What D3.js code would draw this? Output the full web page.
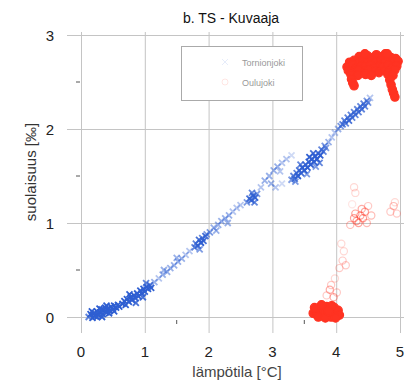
<!DOCTYPE html>
<html>
<head>
<meta charset="utf-8">
<script src="https://cdn.jsdelivr.net/npm/d3@7"></script>
<style>
  body { margin: 0; background: #fff; }
  svg { display: block; }
</style>
</head>
<body>
<div id="chart"></div>
<script>
// Tick values
const xTicks = [0, 1, 2, 3, 4, 5];
const yTicks = [0, 1, 2, 3];
const seriesNames = ["Tornionjoki", "Oulujoki"];

// Tornionjoki (blue x) - temperature, salinity
const tornionjoki = [
  [0.12,0.00],[0.15,0.03],[0.18,-0.01],[0.20,0.04],[0.22,0.01],[0.25,0.06],[0.27,0.02],[0.30,0.05],
  [0.32,0.08],[0.34,0.03],[0.36,0.07],[0.38,0.10],[0.40,0.05],[0.42,0.09],[0.45,0.07],[0.47,0.11],
  [0.50,0.08],[0.52,0.12],[0.55,0.10],[0.58,0.13],[0.60,0.11],[0.25,0.00],[0.33,0.00],[0.44,0.04],
  [0.17,0.06],[0.29,0.09],[0.40,0.12],[0.52,0.06],
  [0.65,0.14],[0.68,0.17],[0.70,0.13],[0.72,0.19],[0.75,0.16],[0.78,0.21],[0.80,0.18],[0.83,0.23],
  [0.85,0.20],[0.88,0.25],[0.90,0.22],[0.93,0.28],[0.95,0.25],[0.98,0.30],[1.00,0.27],[1.03,0.32],
  [1.05,0.30],[1.08,0.34],[1.10,0.31],[0.76,0.24],[0.86,0.15],[0.97,0.21],[1.02,0.36],
  [1.15,0.37],[1.22,0.41],[1.28,0.45],[1.35,0.48],[1.40,0.52],[1.46,0.55],[1.52,0.59],[1.58,0.62],
  [1.64,0.66],[1.70,0.70],[1.30,0.50],[1.50,0.63],
  [1.78,0.74],[1.80,0.78],[1.83,0.76],[1.85,0.82],[1.88,0.79],[1.90,0.84],[1.92,0.81],[1.95,0.86],
  [1.86,0.72],[1.97,0.88],
  [2.02,0.90],[2.08,0.95],[2.15,0.98],[2.20,1.02],[2.26,1.05],[2.32,1.08],[2.38,1.12],[2.44,1.16],
  [2.50,1.19],[2.12,0.92],[2.30,1.00],
  [2.60,1.22],[2.64,1.26],[2.67,1.24],[2.70,1.29],[2.73,1.27],[2.76,1.31],[2.68,1.32],[2.72,1.22],
  [2.82,1.38],[2.88,1.45],[2.95,1.50],[3.02,1.56],[3.08,1.60],[3.15,1.64],[3.22,1.68],[3.30,1.72],
  [2.98,1.42],[3.12,1.55],[3.05,1.38],[3.15,1.42],
  [3.30,1.46],[3.33,1.50],[3.35,1.47],[3.38,1.53],[3.40,1.50],[3.42,1.56],[3.45,1.53],[3.47,1.59],
  [3.50,1.56],[3.52,1.62],[3.55,1.59],[3.57,1.65],[3.60,1.62],[3.62,1.68],[3.65,1.65],[3.67,1.71],
  [3.70,1.68],[3.72,1.74],[3.75,1.72],[3.77,1.78],[3.80,1.76],[3.82,1.82],[3.84,1.80],[3.44,1.62],
  [3.54,1.52],[3.64,1.74],[3.74,1.64],[3.36,1.44],[3.58,1.70],[3.68,1.60],
  [3.88,1.86],[3.93,1.91],[3.98,1.96],[4.03,2.00],[4.07,2.03],
  [4.10,2.05],[4.13,2.09],[4.15,2.06],[4.18,2.12],[4.20,2.09],[4.23,2.15],[4.25,2.12],[4.28,2.18],
  [4.30,2.15],[4.33,2.21],[4.35,2.18],[4.38,2.24],[4.40,2.21],[4.43,2.27],[4.45,2.24],[4.48,2.30],
  [4.50,2.28],[4.53,2.33]
];

// Oulujoki (red o) - temperature, salinity
const oulujoki = [
  [4.36,2.77],[4.43,2.75],[4.49,2.78],[4.58,2.76],[4.63,2.79],[4.72,2.77],[4.77,2.80],[4.86,2.76],[4.93,2.75],
  [4.21,2.71],[4.28,2.73],[4.33,2.70],[4.42,2.72],[4.47,2.70],[4.56,2.73],[4.61,2.71],[4.70,2.72],
  [4.75,2.70],[4.84,2.73],[4.89,2.71],[4.97,2.72],
  [4.17,2.66],[4.26,2.68],[4.31,2.65],[4.40,2.67],[4.45,2.66],[4.54,2.68],[4.59,2.65],[4.68,2.67],
  [4.73,2.66],[4.82,2.68],[4.87,2.65],[4.95,2.67],
  [4.19,2.62],[4.29,2.61],[4.35,2.63],[4.45,2.61],[4.51,2.63],[4.61,2.62],[4.67,2.60],[4.77,2.62],
  [4.83,2.61],[4.92,2.63],
  [4.23,2.58],[4.34,2.57],[4.46,2.58],[4.55,2.57],[4.81,2.58],[4.89,2.57],
  [4.24,2.53],[4.26,2.49],[4.28,2.46],[4.84,2.52],[4.86,2.47],[4.88,2.42],[4.90,2.38],[4.92,2.34],
  [4.80,2.80],[4.45,2.80],
  [3.64,0.04],[3.68,0.07],[3.70,0.02],[3.73,0.09],[3.75,0.04],[3.78,0.10],[3.80,0.01],[3.82,0.06],
  [3.85,0.11],[3.87,0.03],[3.90,0.08],[3.92,0.00],[3.95,0.05],[3.97,0.10],[4.00,0.03],[4.03,0.07],
  [4.05,0.02],[3.72,0.00],[3.83,-0.01],[3.99,-0.01],[3.77,0.13],[3.93,0.12],[3.66,0.10],[3.88,0.06],
  [3.85,0.23],[3.90,0.29],[3.96,0.21],[4.01,0.26],[3.92,0.34],[4.05,0.52],[4.10,0.60],[4.12,0.70],
  [4.08,0.78],[4.15,0.55],[4.22,0.98],[4.28,1.05],[4.32,1.02],[4.30,1.10],[4.35,1.00],[4.38,1.08],
  [4.40,1.15],[4.42,1.05],[4.45,1.12],[4.48,1.00],[4.25,1.20],[4.30,1.32],[4.28,1.38],[4.50,1.18],
  [4.55,1.08],[4.85,1.12],[4.90,1.18],[4.95,1.10],[4.92,1.22],[3.98,0.41]
];

const width = 416;
const height = 384;

const x = d3.scaleLinear().domain([0, 5]).range([81, 400]);
const y = d3.scaleLinear().domain([0, 3]).range([317, 35]);

const blue = "#2f5fd2";
const red = "#ff3322";
const font = "'Liberation Sans', Arial, sans-serif";

const svg = d3.select("#chart").append("svg")
  .attr("width", width)
  .attr("height", height)
  .attr("font-family", font);

// grid
svg.append("g")
  .attr("stroke", "#c4c4c4")
  .attr("stroke-width", 1)
  .selectAll("line.v")
  .data(xTicks)
  .join("line")
  .attr("x1", d => x(d) + 0.5).attr("x2", d => x(d) + 0.5)
  .attr("y1", y(3) - 3).attr("y2", y(0) + 16);

svg.append("g")
  .attr("stroke", "#c4c4c4")
  .attr("stroke-width", 1)
  .selectAll("line.h")
  .data(yTicks)
  .join("line")
  .attr("y1", d => y(d) + 0.5).attr("y2", d => y(d) + 0.5)
  .attr("x1", x(0) - 14).attr("x2", x(5) + 4);

// small minor tick marks
svg.append("g")
  .attr("stroke", "#555")
  .selectAll("line")
  .data([0.5, 1.5, 2.5])
  .join("line")
  .attr("x1", x(0) - 5).attr("x2", x(0) - 1)
  .attr("y1", d => y(d)).attr("y2", d => y(d));

svg.append("g")
  .attr("stroke", "#555")
  .selectAll("line")
  .data([1.5, 3.5])
  .join("line")
  .attr("x1", d => x(d)).attr("x2", d => x(d))
  .attr("y1", y(0) + 3).attr("y2", y(0) + 7);

// tick labels
svg.append("g")
  .attr("font-size", 15)
  .attr("fill", "#222")
  .attr("text-anchor", "middle")
  .selectAll("text")
  .data(xTicks)
  .join("text")
  .attr("x", d => x(d))
  .attr("y", 357)
  .text(d => d);

svg.append("g")
  .attr("font-size", 15)
  .attr("fill", "#222")
  .attr("text-anchor", "end")
  .selectAll("text")
  .data(yTicks)
  .join("text")
  .attr("x", 54)
  .attr("y", d => y(d) + 5.5)
  .text(d => d);

// titles
svg.append("text")
  .attr("x", 231).attr("y", 23)
  .attr("text-anchor", "middle")
  .attr("font-size", 14)
  .attr("fill", "#111")
  .text("b. TS - Kuvaaja");

svg.append("text")
  .attr("x", 237).attr("y", 377)
  .attr("text-anchor", "middle")
  .attr("font-size", 15)
  .attr("fill", "#444")
  .text("lämpötila [°C]");

svg.append("text")
  .attr("transform", `translate(36,172) rotate(-90)`)
  .attr("text-anchor", "middle")
  .attr("font-size", 15)
  .attr("fill", "#333")
  .text("suolaisuus [‰]");

// local density -> opacity, so lone markers look faint like the scan
function density(points, r) {
  return points.map(p => {
    const px = x(p[0]), py = y(p[1]);
    let n = 0;
    for (const q of points) {
      const dx = x(q[0]) - px, dy = y(q[1]) - py;
      if (dx * dx + dy * dy < r * r) n++;
    }
    return n;
  });
}

const dBlue = density(tornionjoki, 8);
const dRed = density(oulujoki, 9);

svg.append("g")
  .attr("fill", "none")
  .attr("stroke", blue)
  .attr("stroke-width", 1.8)
  .selectAll("path")
  .data(tornionjoki)
  .join("path")
  .attr("transform", d => `translate(${x(d[0])},${y(d[1])})`)
  .attr("d", "M-3,-3L3,3M-3,3L3,-3")
  .attr("opacity", (d, i) => Math.min(1, 0.1 + (dBlue[i] - 1) * 0.13));

// core of the saturated blobs, grown to every marker chained onto it
const dense = oulujoki.map((d, i) => dRed[i] > 9);
let grew = true;
while (grew) {
  grew = false;
  oulujoki.forEach((p, i) => {
    if (dense[i]) return;
    const hit = oulujoki.some((q, j) => {
      if (!dense[j]) return false;
      const dx = x(q[0]) - x(p[0]), dy = y(q[1]) - y(p[1]);
      return dx * dx + dy * dy < 40;
    });
    if (hit) { dense[i] = true; grew = true; }
  });
}

svg.append("g")
  .attr("stroke", red)
  .attr("stroke-width", 1.2)
  .selectAll("circle")
  .data(oulujoki)
  .join("circle")
  .attr("cx", d => x(d[0]))
  .attr("cy", d => y(d[1]))
  .attr("r", (d, i) => dense[i] ? 4.2 : 3.6)
  .attr("fill", red)
  .attr("fill-opacity", (d, i) => dense[i] ? 1 : 0)
  .attr("stroke-opacity", (d, i) => dense[i] ? 1 : Math.min(0.45, 0.12 + (dRed[i] - 1) * 0.07));

// legend
const legend = svg.append("g");
legend.append("rect")
  .attr("x", 181.5).attr("y", 46.5)
  .attr("width", 121).attr("height", 54)
  .attr("fill", "#fff")
  .attr("stroke", "#aaa");

legend.selectAll("text")
  .data(seriesNames)
  .join("text")
  .attr("x", 242)
  .attr("y", (d, i) => 66 + i * 20)
  .attr("font-size", 9)
  .attr("fill", "#999")
  .text(d => d);

legend.append("path")
  .attr("d", "M222,59L228,65M222,65L228,59")
  .attr("stroke", blue).attr("stroke-opacity", 0.12);
legend.append("circle")
  .attr("cx", 225).attr("cy", 82).attr("r", 3)
  .attr("fill", "none").attr("stroke", red).attr("stroke-opacity", 0.12);
</script>
</body>
</html>
